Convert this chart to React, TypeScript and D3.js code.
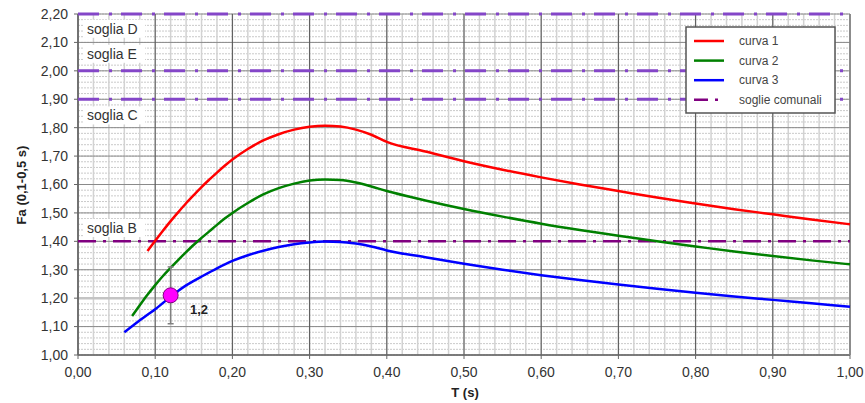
import React from "react";
import * as d3 from "d3";

const xTicks = [0, 0.1, 0.2, 0.3, 0.4, 0.5, 0.6, 0.7, 0.8, 0.9, 1.0];
const yTicks = [1.0, 1.1, 1.2, 1.3, 1.4, 1.5, 1.6, 1.7, 1.8, 1.9, 2.0, 2.1, 2.2];

const curva1: [number, number][] = [
  [0.09, 1.366], [0.10, 1.402], [0.11, 1.437], [0.12, 1.471], [0.13, 1.503], [0.14, 1.534],
  [0.15, 1.563], [0.16, 1.591], [0.17, 1.617], [0.18, 1.642], [0.19, 1.666], [0.20, 1.688],
  [0.22, 1.725], [0.24, 1.755], [0.26, 1.777], [0.28, 1.793], [0.30, 1.803], [0.32, 1.807],
  [0.34, 1.804], [0.36, 1.793], [0.38, 1.775], [0.40, 1.750], [0.45, 1.716],
  [0.50, 1.682], [0.55, 1.652], [0.60, 1.625], [0.65, 1.600], [0.70, 1.577], [0.75, 1.554],
  [0.80, 1.533], [0.85, 1.513], [0.90, 1.495], [0.95, 1.477], [1.00, 1.460],
];

const curva2: [number, number][] = [
  [0.07, 1.137], [0.08, 1.175], [0.09, 1.212], [0.10, 1.246], [0.11, 1.278], [0.12, 1.307],
  [0.13, 1.335], [0.14, 1.362], [0.15, 1.388], [0.16, 1.412], [0.17, 1.435], [0.18, 1.458],
  [0.19, 1.480], [0.20, 1.500], [0.22, 1.535], [0.24, 1.565], [0.26, 1.587], [0.28, 1.603],
  [0.30, 1.614], [0.32, 1.618], [0.34, 1.616], [0.36, 1.607], [0.38, 1.593], [0.40, 1.577],
  [0.45, 1.544], [0.50, 1.514], [0.55, 1.487], [0.60, 1.462], [0.65, 1.440],
  [0.70, 1.420], [0.75, 1.400], [0.80, 1.382], [0.85, 1.364], [0.90, 1.348], [0.95, 1.333],
  [1.00, 1.319],
];

const curva3: [number, number][] = [
  [0.06, 1.080], [0.07, 1.101], [0.08, 1.122], [0.09, 1.142], [0.10, 1.161], [0.11, 1.183],
  [0.12, 1.205], [0.13, 1.226], [0.14, 1.245], [0.15, 1.261], [0.16, 1.276], [0.18, 1.305],
  [0.20, 1.331], [0.22, 1.351], [0.24, 1.367], [0.26, 1.380], [0.28, 1.390], [0.30, 1.396],
  [0.32, 1.399], [0.34, 1.398], [0.36, 1.392], [0.38, 1.382], [0.40, 1.368],
  [0.45, 1.344], [0.50, 1.321], [0.55, 1.300], [0.60, 1.281], [0.65, 1.264], [0.70, 1.248],
  [0.75, 1.233], [0.80, 1.219], [0.85, 1.206], [0.90, 1.194], [0.95, 1.182], [1.00, 1.170],
];

const soglieAlte = [2.2, 2.0, 1.9];
const sogliaBassa = 1.4;
const sogliaLabels: [string, number][] = [
  ["soglia D", 2.148],
  ["soglia E", 2.06],
  ["soglia C", 1.843],
  ["soglia B", 1.447],
];

const markerT = 0.12;
const markerFa = 1.21;
const errLow = 1.11;
const errHigh = 1.31;
const markerLabel = "1,2";

const seriesNames = ["curva 1", "curva 2", "curva 3", "soglie comunali"];
const seriesColors = ["#ff0000", "#008000", "#0000ff", "#800080"];

const fmt = (v: number) => v.toFixed(2).replace(".", ",");

export default function App() {
  const W = 865, H = 403;
  const x = d3.scaleLinear().domain([0, 1]).range([78, 850]);
  const y = d3.scaleLinear().domain([1, 2.2]).range([355, 14]);
  const line = d3
    .line<[number, number]>()
    .x((d) => x(d[0]))
    .y((d) => y(d[1]))
    .curve(d3.curveMonotoneX);

  const minorX = d3.range(0, 1.0001, 0.02);
  const minorY = d3.range(1, 2.2001, 0.02);
  const font = "'Liberation Sans', Arial, sans-serif";
  const [x0, x1] = x.range();
  const [yb, yt] = y.range();
  const curves = [curva1, curva2, curva3];

  return (
    <svg
      width={W}
      height={H}
      style={{ position: "absolute", left: 0, top: 0, background: "#fff" }}
      fontFamily={font}
    >
      <rect x={0} y={0} width={W} height={H} fill="#fff" />
      {/* minor grid */}
      {minorY.map((v, i) => (
        <line key={"my" + i} x1={x0} x2={x1} y1={y(v)} y2={y(v)} stroke="#cacaca" strokeWidth={1} strokeDasharray="2,1" />
      ))}
      {minorX.map((v, i) => (
        <line key={"mx" + i} x1={x(v)} x2={x(v)} y1={yb} y2={yt} stroke="#d2d2d2" strokeWidth={1.5} />
      ))}
      {/* major grid */}
      {yTicks.map((v, i) => (
        <line
          key={"gy" + i}
          x1={x0}
          x2={x1}
          y1={y(v)}
          y2={y(v)}
          stroke={Math.abs(v - 1.2) < 1e-6 ? "#c4c4c4" : "#8a8a8a"}
          strokeWidth={Math.abs(v - 1.2) < 1e-6 ? 2.5 : 1}
        />
      ))}
      {xTicks.map((v, i) => (
        <line key={"gx" + i} x1={x(v)} x2={x(v)} y1={yb} y2={yt} stroke="#555" strokeWidth={1} />
      ))}
      {/* axes */}
      <line x1={x0} x2={x0} y1={yb} y2={yt} stroke="#666" strokeWidth={1.5} />
      <line x1={x0} x2={x1} y1={yb} y2={yb} stroke="#666" strokeWidth={1.5} />
      <line x1={x1} x2={x1} y1={yb} y2={yt} stroke="#888" strokeWidth={1.5} />
      {yTicks.map((v, i) => (
        <g key={"ty" + i}>
          <line x1={x0 - 4} x2={x0} y1={y(v)} y2={y(v)} stroke="#666" />
          <text x={68} y={y(v)} dy="0.35em" textAnchor="end" fontSize={14} fill="#333">
            {fmt(v)}
          </text>
        </g>
      ))}
      {xTicks.map((v, i) => (
        <g key={"tx" + i}>
          <line x1={x(v)} x2={x(v)} y1={yb} y2={yb + 4} stroke="#666" />
          <text x={x(v)} y={372} dy="0.35em" textAnchor="middle" fontSize={14} fill="#333">
            {fmt(v)}
          </text>
        </g>
      ))}
      <text x={465} y={392} dy="0.35em" textAnchor="middle" fontSize={13} fontWeight="bold" fill="#222">
        T (s)
      </text>
      <text
        transform={`translate(21,185) rotate(-90)`}
        textAnchor="middle"
        dy="0.35em"
        fontSize={13}
        fontWeight="bold"
        fill="#222"
      >
        Fa (0,1-0,5 s)
      </text>

      {/* threshold lines */}
      {soglieAlte.map((v, i) => (
        <line key={"sa" + i} x1={x0} x2={x1} y1={y(v)} y2={y(v)} stroke="#8446c8" strokeWidth={3} strokeDasharray="21,10,3,9" />
      ))}
      <line x1={x0} x2={x1} y1={y(sogliaBassa)} y2={y(sogliaBassa)} stroke="#800080" strokeWidth={2.5} strokeDasharray="18,7,3,7" />

      {/* threshold labels */}
      {sogliaLabels.map(([t, v], i) => (
        <g key={"sl" + i}>
          <rect x={83} y={y(v) - 9} width={62} height={18} fill="#fff" />
          <text x={87} y={y(v)} dy="0.35em" fontSize={14} fill="#333">
            {t}
          </text>
        </g>
      ))}

      {/* curves */}
      {curves.map((c, i) => (
        <path key={"c" + i} d={line(c) || ""} fill="none" stroke={seriesColors[i]} strokeWidth={2.5} />
      ))}

      {/* error bar + marker */}
      <line x1={x(markerT)} x2={x(markerT)} y1={y(errLow)} y2={y(errHigh)} stroke="#808080" strokeWidth={1.5} />
      <line x1={x(markerT) - 3} x2={x(markerT) + 3} y1={y(errLow)} y2={y(errLow)} stroke="#808080" strokeWidth={1.5} />
      <line x1={x(markerT) - 3} x2={x(markerT) + 3} y1={y(errHigh)} y2={y(errHigh)} stroke="#808080" strokeWidth={1.5} />
      <circle cx={x(markerT)} cy={y(markerFa)} r={7.5} fill="#ff00ff" stroke="#800080" strokeWidth={1} />
      <text x={190} y={309} dy="0.35em" fontSize={13} fontWeight="bold" fill="#222">
        {markerLabel}
      </text>

      {/* legend */}
      <rect x={686} y={27} width={149} height={86} fill="#fff" stroke="#555" strokeWidth={1.5} />
      {seriesNames.map((n, i) => {
        const ly = 41 + i * 19.6;
        return (
          <g key={"lg" + i}>
            {i < 3 ? (
              <line x1={694} x2={724} y1={ly} y2={ly} stroke={seriesColors[i]} strokeWidth={2.5} />
            ) : (
              <line x1={694} x2={724} y1={ly} y2={ly} stroke={seriesColors[i]} strokeWidth={2.5} strokeDasharray="14,7,3,20" />
            )}
            <text x={739} y={ly} dy="0.35em" fontSize={12} fill="#444">
              {n}
            </text>
          </g>
        );
      })}
    </svg>
  );
}
